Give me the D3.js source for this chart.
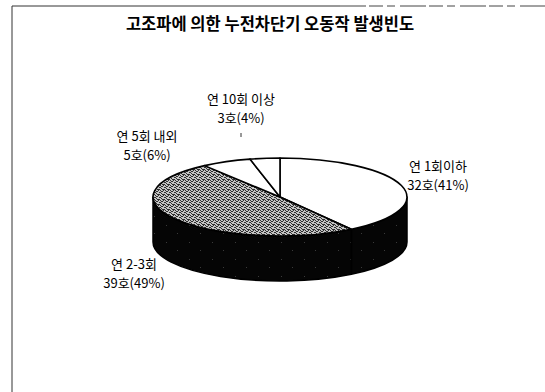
<!DOCTYPE html>
<html><head><meta charset="utf-8">
<script src="https://cdn.jsdelivr.net/npm/d3@7"></script>
<style>html,body{margin:0;padding:0;background:#fff;}svg{display:block;}</style>
</head><body>
<svg id="c" width="545" height="392"></svg>
<script>
// ---- data ----
const title = "고조파에 의한 누전차단기 오동작 발생빈도";
const categories = ["연 1회이하", "연 2-3회", "연 5회 내외", "연 10회 이상"];
const counts = [32, 39, 5, 3];
const percents = [41, 49, 6, 4];

// ---- layout (not data) ----
const W = 545, H = 392;
const cx = 280, cy = 197, rx = 127, ry = 39, depth = 45;
const labelPos = [
  {x: 438, y1: 166, y2: 185},
  {x: 134, y1: 264, y2: 283},
  {x: 147, y1: 136, y2: 155},
  {x: 241, y1: 99, y2: 118}
];
const topFills = ["#ffffff", "url(#stip)", "#ffffff", "#ffffff"];

const svg = d3.select("#c");
const defs = svg.append("defs");
const stip = defs.append("pattern").attr("id", "stip").attr("patternUnits", "userSpaceOnUse")
  .attr("width", 5).attr("height", 5);
stip.append("rect").attr("width", 5).attr("height", 5).attr("fill", "#c4c4c4");
[[0,0],[2,1],[4,2],[1,3],[3,4],[3,0],[0,2],[2,4],[4,4],[1,1]].forEach(([x,y]) =>
  stip.append("rect").attr("x", x).attr("y", y).attr("width", 1).attr("height", 1).attr("fill", "#2e2e2e"));
const blk = defs.append("pattern").attr("id", "blk").attr("patternUnits", "userSpaceOnUse")
  .attr("width", 23).attr("height", 17);
blk.append("rect").attr("width", 23).attr("height", 17).attr("fill", "#050505");
[[5,4],[16,12]].forEach(([x,y]) =>
  blk.append("rect").attr("x", x).attr("y", y).attr("width", 1).attr("height", 1).attr("fill", "#3a3a3a"));

svg.append("rect").attr("width", W).attr("height", H).attr("fill", "#fff");

// frame
svg.append("line").attr("x1", 12).attr("x2", 12).attr("y1", 6).attr("y2", H)
  .attr("stroke", "#333").attr("stroke-width", 1);
svg.append("line").attr("x1", 12).attr("x2", 340).attr("y1", 6).attr("y2", 6)
  .attr("stroke", "#333").attr("stroke-width", 1);
svg.append("line").attr("x1", 340).attr("x2", 545).attr("y1", 6).attr("y2", 6)
  .attr("stroke", "#444").attr("stroke-width", 1).attr("stroke-dasharray", "26,3,14,4,8,5");

// title
svg.append("text").attr("x", 270).attr("y", 30).attr("text-anchor", "middle")
  .attr("font-family", "'Noto Sans CJK KR', sans-serif").attr("font-weight", "bold")
  .attr("font-size", 16.5).attr("fill", "#000").text(title);

// pie
const pie = d3.pie().sort(null).value(d => d).startAngle(0).endAngle(2 * Math.PI);
const arcs = pie(counts);
const pt = (a, dy = 0) => [cx + rx * Math.sin(a), cy - ry * Math.cos(a) + dy];

function sidePath(d) {
  const s0 = Math.max(d.startAngle, Math.PI / 2), s1 = Math.min(d.endAngle, 3 * Math.PI / 2);
  if (s1 <= s0) return null;
  const p0 = pt(s0), p1 = pt(s1), q1 = pt(s1, depth), q0 = pt(s0, depth);
  const large = (s1 - s0) > Math.PI ? 1 : 0;
  return `M${p0}A${rx},${ry} 0 ${large} 1 ${p1}L${q1}A${rx},${ry} 0 ${large} 0 ${q0}Z`;
}
function topPath(d) {
  const p0 = pt(d.startAngle), p1 = pt(d.endAngle);
  const large = (d.endAngle - d.startAngle) > Math.PI ? 1 : 0;
  return `M${cx},${cy}L${p0}A${rx},${ry} 0 ${large} 1 ${p1}Z`;
}

svg.append("g").selectAll("path").data(arcs.filter(d => sidePath(d))).join("path")
  .attr("d", sidePath).attr("fill", "url(#blk)").attr("stroke", "#000").attr("stroke-width", 1.5)
  .attr("stroke-linejoin", "round");
svg.append("g").selectAll("path").data(arcs).join("path")
  .attr("d", topPath).attr("fill", (d, i) => topFills[i]).attr("stroke", "#000")
  .attr("stroke-width", 1.6).attr("stroke-linejoin", "round");

// labels
const lg = svg.append("g").attr("font-family", "'Noto Sans CJK KR', sans-serif")
  .attr("font-size", 13).attr("fill", "#000").attr("text-anchor", "middle");
arcs.forEach((d, i) => {
  lg.append("text").attr("x", labelPos[i].x).attr("y", labelPos[i].y1 + 5).text(categories[i]);
  lg.append("text").attr("x", labelPos[i].x).attr("y", labelPos[i].y2 + 5)
    .text(`${counts[i]}호(${percents[i]}%)`);
});
// leader remnant
svg.append("line").attr("x1", 241).attr("x2", 241).attr("y1", 133).attr("y2", 137)
  .attr("stroke", "#333").attr("stroke-width", 1);
</script>
</body></html>
